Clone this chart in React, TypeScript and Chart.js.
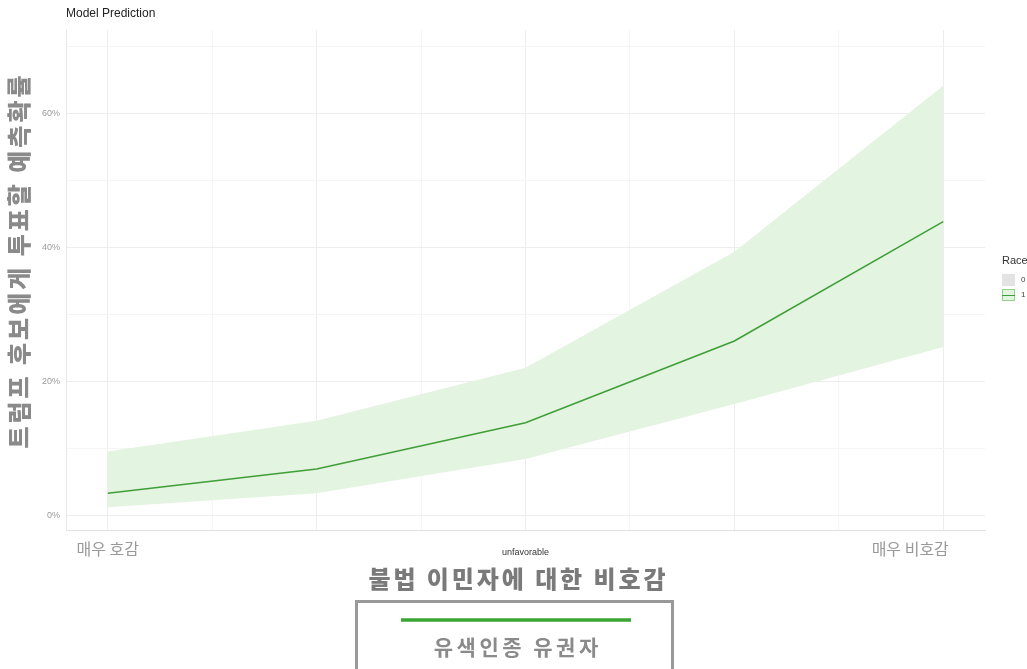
import React, { useEffect, useRef } from "react";
import { Chart, registerables } from "chart.js";

Chart.register(...registerables);

const xValues = [1, 2, 3, 4, 5];
const predicted = [3.4, 7.0, 13.9, 26.1, 43.9];
const upperBound = [9.6, 14.2, 22.1, 39.4, 64.2];
const lowerBound = [1.3, 3.4, 8.5, 16.7, 25.2];
const yTickValues = [0, 10, 20, 30, 40, 50, 60, 70];
const xTickValues = [1, 1.5, 2, 2.5, 3, 3.5, 4, 4.5, 5];
const xLabels = [
  { value: 1, text: "매우 호감" },
  { value: 3, text: "unfavorable" },
  { value: 5, text: "매우 비호감" },
];
const chartTitle = "Model Prediction";
const yTitle = "트럼프 후보에게 투표할 예측확률";
const xTitle = "불법 이민자에 대한 비호감";
const legendTitle = "Race";
const legendItems = ["0", "1"];
const boxLabel = "유색인종 유권자";

const KR = '"Noto Sans CJK KR", "Noto Sans", sans-serif';
const LAT = '"Liberation Sans", Arial, sans-serif';
const LINE_GREEN = "#3f9e37";
const BAND_GREEN = "#e3f4e0";

function fitText(ctx: CanvasRenderingContext2D, text: string, cx: number, cy: number, width: number) {
  (ctx as any).letterSpacing = "0px";
  const w = ctx.measureText(text).width;
  const n = Array.from(text).length;
  const extra = n > 1 ? (width - w) / n : 0;
  (ctx as any).letterSpacing = extra + "px";
  ctx.textAlign = "left";
  ctx.textBaseline = "middle";
  ctx.fillText(text, cx - width / 2 + extra / 2, cy);
  (ctx as any).letterSpacing = "0px";
}

const overlay = {
  id: "overlay",
  afterDraw(chart: any) {
    const ctx: CanvasRenderingContext2D = chart.ctx;
    const xs = chart.scales.x;
    ctx.save();
    // title
    ctx.fillStyle = "#222";
    ctx.font = `12px ${LAT}`;
    ctx.textAlign = "left";
    ctx.textBaseline = "middle";
    ctx.fillText(chartTitle, 66, 14);

    // y title
    ctx.save();
    ctx.translate(19, 262);
    ctx.rotate(-Math.PI / 2);
    ctx.fillStyle = "#8a8a8a";
    ctx.font = `900 24px ${KR}`;
    fitText(ctx, yTitle, 0, 0, 376);
    ctx.restore();

    // x tick labels
    xLabels.forEach((l) => {
      const px = xs.getPixelForValue(l.value);
      if (l.value === 3) {
        ctx.fillStyle = "#333";
        ctx.font = `9px ${LAT}`;
        ctx.textAlign = "center";
        ctx.textBaseline = "middle";
        ctx.fillText(l.text, px, 553);
      } else {
        ctx.fillStyle = "#999";
        ctx.font = `16px ${KR}`;
        ctx.textAlign = "center";
        ctx.textBaseline = "middle";
        ctx.fillText(l.text, l.value === 5 ? px - 33 : px, 549);
      }
    });

    // x title
    ctx.fillStyle = "#7a7a7a";
    ctx.font = `900 24px ${KR}`;
    fitText(ctx, xTitle, 517, 579, 300);

    // legend
    ctx.fillStyle = "#333";
    ctx.font = `11px ${LAT}`;
    ctx.textAlign = "left";
    ctx.textBaseline = "middle";
    ctx.fillText(legendTitle, 1002, 261);
    ctx.fillStyle = "#e3e3e3";
    ctx.fillRect(1002, 274, 13, 12);
    ctx.fillStyle = BAND_GREEN;
    ctx.fillRect(1002, 289, 13, 12);
    ctx.strokeStyle = "#8fd487";
    ctx.lineWidth = 1;
    ctx.strokeRect(1002.5, 289.5, 12, 11);
    ctx.strokeStyle = LINE_GREEN;
    ctx.beginPath();
    ctx.moveTo(1002, 295.5);
    ctx.lineTo(1015, 295.5);
    ctx.stroke();
    ctx.fillStyle = "#444";
    ctx.font = `8px ${LAT}`;
    ctx.fillText(legendItems[0], 1021, 280);
    ctx.fillText(legendItems[1], 1021, 295);

    // bottom box
    ctx.strokeStyle = "#999";
    ctx.lineWidth = 3;
    ctx.strokeRect(356.5, 601.5, 316, 80);
    ctx.strokeStyle = "#3aa534";
    ctx.lineWidth = 3.5;
    ctx.beginPath();
    ctx.moveTo(401, 620);
    ctx.lineTo(631, 620);
    ctx.stroke();
    ctx.fillStyle = "#8a8a8a";
    ctx.font = `bold 21px ${KR}`;
    fitText(ctx, boxLabel, 516, 647, 168);
    ctx.restore();
  },
};

export default function App() {
  const ref = useRef<HTMLCanvasElement>(null);
  useEffect(() => {
    document.body.style.margin = "0";
    const pts = (arr: number[]) => xValues.map((x, i) => ({ x, y: arr[i] }));
    const chart = new Chart(ref.current!, {
      type: "line",
      data: {
        datasets: [
          {
            data: pts(upperBound),
            borderWidth: 0,
            pointRadius: 0,
            backgroundColor: BAND_GREEN,
            fill: "+1",
            tension: 0,
            order: 2,
          },
          {
            data: pts(lowerBound),
            borderWidth: 0,
            pointRadius: 0,
            backgroundColor: BAND_GREEN,
            fill: false,
            tension: 0,
            order: 2,
          },
          {
            data: pts(predicted),
            borderColor: LINE_GREEN,
            borderWidth: 1.5,
            pointRadius: 0,
            fill: false,
            tension: 0,
            order: 0,
          },
        ],
      },
      options: {
        animation: false,
        responsive: true,
        maintainAspectRatio: false,
        layout: { padding: { top: 30, right: 42, left: 0, bottom: 0 } },
        plugins: {
          legend: { display: false },
          tooltip: { enabled: false },
          title: { display: false },
          filler: { drawTime: "beforeDatasetsDraw" },
        },
        scales: {
          x: {
            type: "linear",
            min: 0.8,
            max: 5.2,
            afterBuildTicks: (s: any) => {
              s.ticks = xTickValues.map((v) => ({ value: v }));
            },
            afterFit: (s: any) => {
              s.height = 139;
            },
            ticks: { display: false },
            grid: {
              drawTicks: false,
              color: (c: any) => (c.tick && Number.isInteger(c.tick.value) ? "#ededed" : "#f5f5f5"),
              lineWidth: 1,
            },
            border: { display: true, color: "#e2e2e2" },
          },
          y: {
            min: -2.1,
            max: 72.5,
            afterBuildTicks: (s: any) => {
              s.ticks = yTickValues.map((v) => ({ value: v }));
            },
            afterFit: (s: any) => {
              s.width = 66;
            },
            ticks: {
              callback: (v: any) => (Number(v) % 20 === 0 ? v + "%" : ""),
              color: "#9a9a9a",
              font: { size: 9, family: LAT },
              padding: 6,
            },
            grid: {
              drawTicks: false,
              color: (c: any) => (c.tick && c.tick.value % 20 === 0 ? "#ededed" : "#f5f5f5"),
              lineWidth: 1,
            },
            border: { display: true, color: "#e8e8e8" },
          },
        },
      },
      plugins: [overlay],
    } as any);
    return () => chart.destroy();
  }, []);
  return (
    <div style={{ position: "fixed", left: 0, top: 0, width: 1027, height: 669, background: "#fff" }}>
      <canvas ref={ref} />
    </div>
  );
}
